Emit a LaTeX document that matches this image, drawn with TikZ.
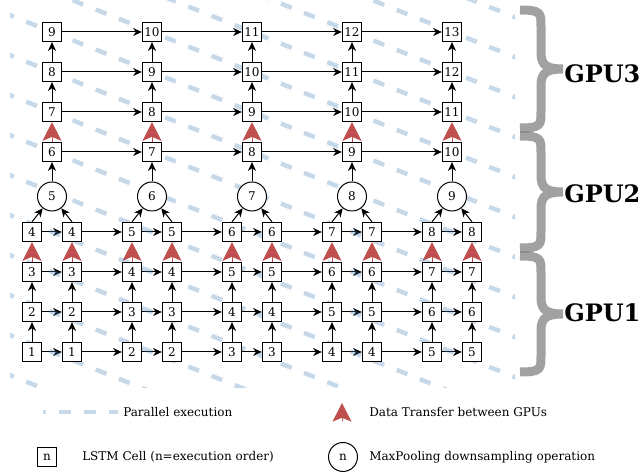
\documentclass[tikz,border=0pt]{standalone}
\usepackage{fontspec}
\setmainfont{DejaVu Serif}
\usetikzlibrary{arrows.meta}
\pgfdeclarelayer{background}
\pgfsetlayers{background,main}
\definecolor{xferred}{RGB}{192,80,77}
\definecolor{paraline}{RGB}{70,130,180}
\begin{document}
\begin{tikzpicture}[x=0.75pt,y=-0.75pt,
  cell/.style={draw, line width=0.75pt, fill=white, minimum size=14.5pt, inner sep=0pt, font=\fontsize{9}{10}\selectfont},
  pool/.style={draw, circle, line width=0.75pt, fill=white, minimum size=21.75pt, inner sep=0pt, font=\fontsize{9}{10}\selectfont},
  flow/.style={line width=0.75pt, -{Stealth[length=6.5pt,width=6pt,inset=2pt]}},
  xfer/.style={line width=0.75pt, draw=xferred, -{Stealth[length=14pt,width=14.25pt,inset=3pt]}},
  para/.style={draw=paraline, draw opacity=0.3, line width=3.4pt, dash pattern=on 8.6pt off 10.1pt},
  gpubrace/.style={draw=black, draw opacity=0.37, line width=6.75pt},
  gpulabel/.style={anchor=west, inner sep=0pt, font=\fontsize{18}{20}\selectfont\bfseries},
  legtext/.style={anchor=west, inner sep=0pt, font=\fontsize{9}{10}\selectfont}
]
\useasboundingbox (0,0) rectangle (644,473);

% GPU1 cells
\foreach \x [count=\c] in {32,72,132,172,232,272,332,372,432,472} {
  \foreach \r in {1,...,4} {
    \pgfmathtruncatemacro\v{\r + int((\c-1)/2)}
    \node[cell] (b\r-\c) at (\x,{392-40*\r}) {\v};
  }
}
% pooling circles and upper cells
\foreach \k in {1,...,5} {
  \pgfmathtruncatemacro\pv{4+\k}
  \node[pool] (p\k) at ({52+100*(\k-1)},196.5) {\pv};
  \foreach \r in {1,...,4} {
    \pgfmathtruncatemacro\tv{4+\r+\k}
    \node[cell] (t\r-\k) at ({52+100*(\k-1)},{192-40*\r}) {\tv};
  }
}

\begin{pgfonlayer}{background}
  % horizontal flows GPU1
  \foreach \r in {1,...,4} {
    \foreach \c [evaluate=\c as \n using int(\c+1)] in {1,...,9} {
      \draw[flow] (b\r-\c) -- (b\r-\n);
    }
  }
  % vertical flows GPU1
  \foreach \c in {1,...,10} {
    \draw[flow] (b1-\c) -- (b2-\c);
    \draw[flow] (b2-\c) -- (b3-\c);
    \draw[xfer] (b3-\c.north) -- (b4-\c.south);
  }
  % pooling
  \foreach \k [evaluate=\k as \ca using int(2*\k-1), evaluate=\k as \cb using int(2*\k)] in {1,...,5} {
    \draw[flow] (b4-\ca.north) -- (p\k);
    \draw[flow] (b4-\cb.north) -- (p\k);
    \draw[flow] (p\k) -- (t1-\k);
    \draw[xfer] (t1-\k.north) -- (t2-\k.south);
    \draw[flow] (t2-\k) -- (t3-\k);
    \draw[flow] (t3-\k) -- (t4-\k);
  }
  \foreach \r in {1,...,4} {
    \foreach \k [evaluate=\k as \n using int(\k+1)] in {1,...,4} {
      \draw[flow] (t\r-\k) -- (t\r-\n);
    }
  }
  % parallel execution lines
  \begin{scope}
    \clip (10,0) rectangle (515,388);
    \foreach \k in {-5,...,10} {
      \draw[para] (-20,{32+40*\k-28.8}) -- (540,{32+40*\k+195.2});
    }
  \end{scope}
\end{pgfonlayer}

% GPU braces
\foreach \ya/\yb in {10/128, 136/248, 256/372} {
  \pgfmathsetmacro\ym{(\ya+\yb)/2}
  \draw[gpubrace] (520,\ya) .. controls (541,\ya) and (541,{\ya+3}) .. (541,{\ya+16})
    -- (541,{\ym-16}) .. controls (541,{\ym-3}) and (548,\ym) .. (563,\ym)
    .. controls (548,\ym) and (541,{\ym+3}) .. (541,{\ym+16})
    -- (541,{\yb-16}) .. controls (541,{\yb-3}) and (541,\yb) .. (520,\yb);
}
\node[gpulabel] (gpu3) at (564,74) {GPU3};
\node[gpulabel] (gpu2) at (564,194) {GPU2};
\node[gpulabel] (gpu1) at (564,313) {GPU1};

% legend
\coordinate (legA) at (43,412);
\coordinate (legB) at (118,412);
\draw[para, dash phase=6.5pt] (legA) -- (legB);
\node[legtext] (legpar) at (123,412) {Parallel execution};
\coordinate (legC) at (342,421.5);
\coordinate (legD) at (342,403);
\draw[xfer] (legC) -- (legD);
\node[legtext] (legxfer) at (369,412) {Data Transfer between GPUs};
\node[cell] (legbox) at (47,457) {n};
\node[legtext] (legcell) at (82,457) {LSTM Cell (n=execution order)};
\node[pool] (legpool) at (343,457) {n};
\node[legtext] (legmax) at (369,457) {MaxPooling downsampling operation};
\end{tikzpicture}
\end{document}
